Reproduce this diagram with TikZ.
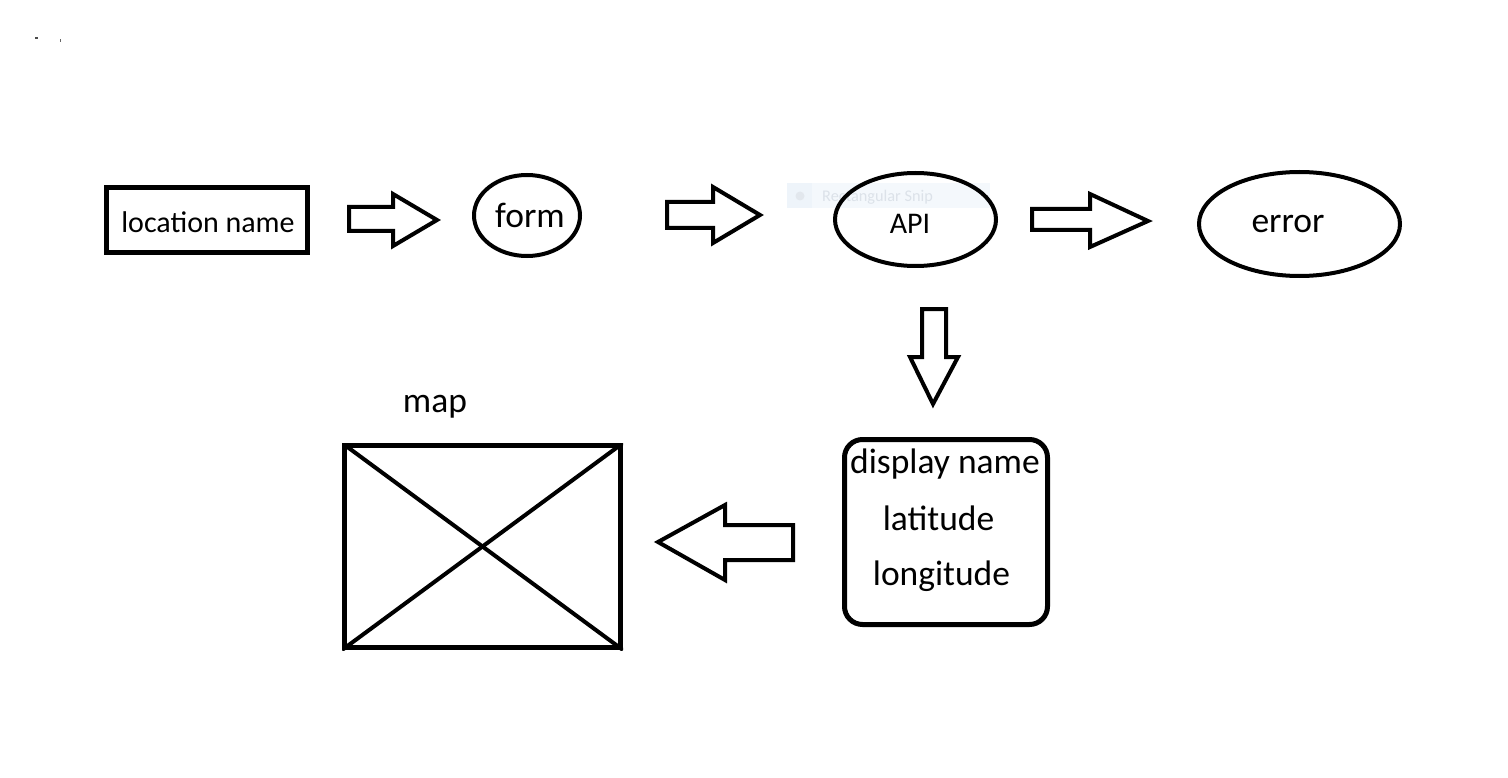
\documentclass[tikz,border=0pt]{standalone}
\usepackage{fontspec}
\setmainfont{Carlito}
\usetikzlibrary{shapes.geometric}
\definecolor{snipbg}{HTML}{F4F8FC}
\definecolor{snipleft}{HTML}{EEF4FA}
\definecolor{sniptxt}{HTML}{DCE2E9}
\definecolor{snipdot}{HTML}{E2E7ED}
\tikzset{
  box/.style={draw, line width=5pt, inner sep=0pt},
  oval/.style={draw, ellipse, line width=4pt, inner sep=0pt},
  blockarrow/.style={draw, line width=4pt, line join=miter, miter limit=4},
  txt/.style={anchor=base, inner sep=0pt, text=black},
  big/.style={font=\fontsize{35.5}{40}\selectfont},
  mid/.style={font=\fontsize{30}{36}\selectfont},
}
\begin{document}
\begin{tikzpicture}[x=1pt, y=-1pt]
\useasboundingbox[fill=white] (0,0) rectangle (1508,778);

% tiny marks top-left
\fill[black!70] (34.5,37) rectangle (37.5,39);
\fill[black!60] (59.5,39.5) rectangle (61,42);

% location name
\node[box, minimum width=201pt, minimum height=65pt] (loc) at (207,220) {};
\node[txt, mid] (loctxt) at (208,233) {location name};

% arrow 1
\draw[blockarrow] (349,207) -- (393,207) -- (393,194) -- (437,220) -- (393,246) -- (393,231) -- (349,231) -- cycle;

% form
\node[oval, minimum width=106pt, minimum height=81pt] (form) at (527,215.5) {};
\node[txt, big] (formtxt) at (530,228) {form};

% arrow 2
\draw[blockarrow] (667,202) -- (713,202) -- (713,187) -- (760,215) -- (713,243) -- (713,228) -- (667,228) -- cycle;

% snip tooltip artefact
\fill[snipbg] (787,183) rectangle (990,208);
\fill[snipleft] (787,183) rectangle (812,208);
\fill[snipdot] (800,196) circle (4.5);
\node[anchor=base west, inner sep=0pt, text=sniptxt, font=\fontsize{16.3}{18}\selectfont] (snip) at (822,202) {Rectangular Snip};

% API
\node[oval, minimum width=161pt, minimum height=93pt] (api) at (915.5,219.5) {};
\node[txt, mid] (apitxt) at (910,234) {API};

% arrow 3
\draw[blockarrow] (1032,209) -- (1090,209) -- (1090,194) -- (1148,221) -- (1090,247) -- (1090,230) -- (1032,230) -- cycle;

% error
\node[oval, minimum width=201pt, minimum height=104pt] (err) at (1299.5,224) {};
\node[txt, big] (errtxt) at (1288,233) {error};

% down arrow
\draw[blockarrow] (922,309) -- (946,309) -- (946,357) -- (958,357) -- (933,404) -- (910,357) -- (922,357) -- cycle;

% display box
\node[box, rounded corners=18pt, minimum width=203pt, minimum height=185pt] (disp) at (946,532) {};
\node[txt, big] (dname) at (945,473) {display name};
\node[txt, big] (dlat) at (938.5,530) {latitude};
\node[txt, big] (dlon) at (941.5,585) {longitude};

% left arrow
\draw[blockarrow] (793,525) -- (725,525) -- (725,505) -- (658,542) -- (725,580) -- (725,560) -- (793,560) -- cycle;

% map
\node[box, minimum width=276pt, minimum height=202pt] (map) at (482.5,546.5) {};
\begin{scope}
  \clip (map.north west) rectangle (map.south east);
  \draw[line width=4pt] (map.north west) -- (map.south east);
  \draw[line width=4pt] (map.south west) -- (map.north east);
\end{scope}
\node[txt, big] (maptxt) at (435,412) {map};
\end{tikzpicture}
\end{document}
